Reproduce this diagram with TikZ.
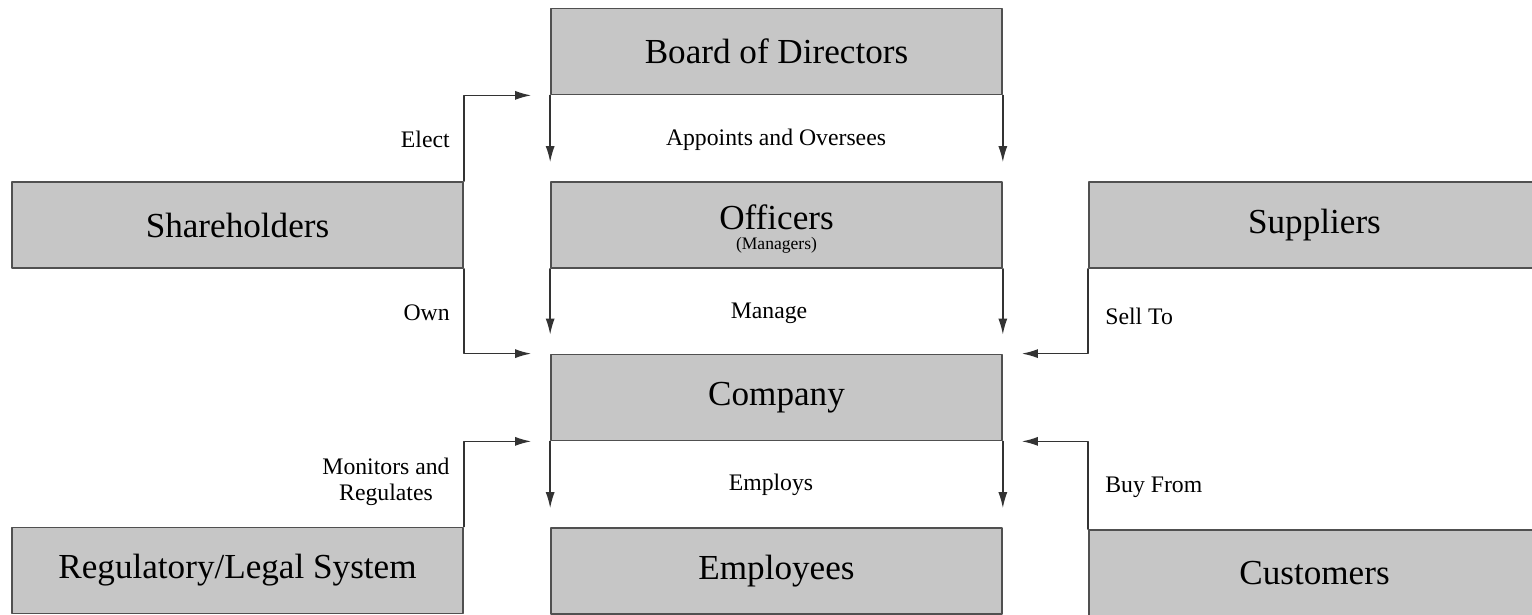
\documentclass[tikz,border=0pt]{standalone}
\usepackage{fontspec}
\setmainfont{Liberation Serif}
\usetikzlibrary{arrows.meta,positioning}

\definecolor{boxgray}{HTML}{C6C6C6}
\definecolor{edgegray}{HTML}{505050}
\definecolor{linegray}{HTML}{333333}

\begin{document}
\begin{tikzpicture}[line cap=round,line join=round,x=0.02cm,y=0.02cm,
	box/.style={draw=edgegray,line width=1pt,fill=boxgray,inner sep=0pt,
		minimum width=9.02cm,minimum height=1.72cm,font=\fontsize{20}{24}\selectfont},
	lbl/.style={font=\fontsize{13.5}{15}\selectfont,inner sep=0pt},
	flow/.style={draw=linegray,line width=0.8pt,-{Latex[length=3.2mm,width=1.8mm]},shorten >=0.38cm}]

\clip (0,0) rectangle (1532,615);
\useasboundingbox (0,0) rectangle (1532,615);

% boxes
\node[box] (board) at (776.5,563.5) {Board of Directors};
\node[box] (officers) at (776.5,390) {};
\node[font=\fontsize{20}{24}\selectfont,inner sep=0pt] (offname) at (776.5,398) {Officers};
\node[font=\fontsize{10}{11}\selectfont,inner sep=0pt] (offsub) at (776.5,370) {(Managers)};
\node[box] (company) at (776.5,217.5) {Company};
\node[box] (employees) at (776.5,44) {Employees};
\node[box] (share) at (237.5,390) {Shareholders};
\node[box] (legal) at (237.5,44.5) {Regulatory/Legal System};
\node[box] (suppl) at (1314.5,390) {Suppliers};
\node[box] (cust) at (1314.5,42) {Customers};

% vertical flows down the middle
\draw[flow] (board.south west) -- (officers.north west);
\draw[flow] (board.south east) -- (officers.north east);
\draw[flow] (officers.south west) -- (company.north west);
\draw[flow] (officers.south east) -- (company.north east);
\draw[flow] (company.south west) -- (employees.north west);
\draw[flow] (company.south east) -- (employees.north east);

% side flows
\draw[flow] (share.north east) |- (board.south west);
\draw[flow] (share.south east) |- (company.north west);
\draw[flow] (legal.north east) |- (company.south west);
\draw[flow] (suppl.south west) |- (company.north east);
\draw[flow] (cust.north west) |- (company.south east);

% labels
\node[lbl,anchor=east] (elect) at (450,476) {Elect};
\node[lbl] (appoint) at (776,475) {Appoints and Oversees};
\node[lbl,anchor=east] (own) at (450,302) {Own};
\node[lbl] (manage) at (769,302) {Manage};
\node[lbl,anchor=west] (sell) at (1105,299) {Sell To};
\node[lbl,align=center] (monitor) at (386,133) {Monitors and\\Regulates};
\node[lbl] (employs) at (771,130) {Employs};
\node[lbl,anchor=west] (buy) at (1105,128) {Buy From};
\end{tikzpicture}
\end{document}
